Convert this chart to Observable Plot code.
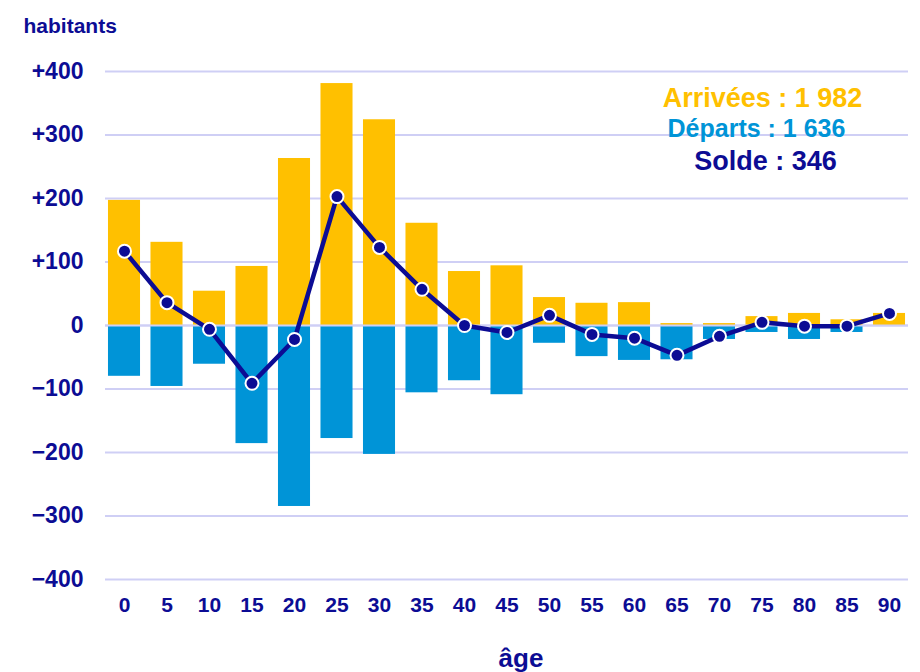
<!DOCTYPE html>
<html><head><meta charset="utf-8">
<script src="https://cdn.jsdelivr.net/npm/d3@7"></script>
<script src="https://cdn.jsdelivr.net/npm/@observablehq/plot@0.6"></script>
<style>
body{margin:0;background:#fff;}
#chart{position:relative;width:920px;height:672px;}
</style></head><body>
<div id="chart"></div>
<script>
const ages = ["0","5","10","15","20","25","30","35","40","45","50","55","60","65","70","75","80","85","90"];
const arrivees = [197,131,54,93,263,381,324,161,85,94,44,35,36,3,3,14,19,9,19];
const departs = [-80,-96,-61,-186,-285,-178,-203,-106,-87,-109,-28,-49,-55,-54,-22,-11,-22,-11,-1];
const solde = [117,36,-6,-91,-22,203,123,57,0,-11,16,-14,-20,-47,-17,5,-1,-1,19];
const yTicks = [-400,-300,-200,-100,0,100,200,300,400];
const labels = ["Arrivées : 1 982","Départs : 1 636","Solde : 346"];

const rows = ages.map((a,i)=>({age:a, arr:arrivees[i], dep:departs[i], sol:solde[i]}));
const navy = "#0c0c94";
const fmt = d => d>0 ? "+"+d : d<0 ? "\u2212"+(-d) : "0";
const font = "'Liberation Sans', Arial, sans-serif";

const plot = Plot.plot({
  width:920, height:672,
  marginLeft:105, marginRight:12, marginTop:71, marginBottom:93,
  style:{fontFamily:font, background:"#fff", overflow:"visible"},
  x:{domain:ages, paddingInner:0.246, paddingOuter:0.07, round:false, label:null, axis:null},
  y:{domain:[-400,400], label:null, axis:null},
  marks:[
    Plot.ruleY(yTicks, {stroke:"#cfcff5", strokeWidth:2}),
    Plot.barY(rows, {x:"age", y:"arr", fill:"#ffc000"}),
    Plot.barY(rows, {x:"age", y:"dep", fill:"#0094d7"}),
    Plot.ruleY([0], {stroke:"#cfcff5", strokeWidth:2}),
    Plot.axisY(yTicks, {tickSize:0, tickPadding:22, tickFormat:fmt, fill:navy, fontSize:23, fontWeight:"bold", fontFamily:font, label:null}),
    Plot.axisX(ages, {tickSize:0, tickPadding:18, fill:navy, fontSize:21, fontWeight:"bold", fontFamily:font, label:null}),
    Plot.line(rows, {x:"age", y:"sol", stroke:navy, strokeWidth:4.5, strokeLinejoin:"round"}),
    Plot.dot(rows, {x:"age", y:"sol", r:6.5, fill:navy, stroke:"#fff", strokeWidth:2}),
    Plot.text([labels[0]], {frameAnchor:"top-right", dy:16, fill:"#ffc000", fontSize:27, fontWeight:"bold", textAnchor:"middle", dx:-146, fontFamily:font}),
    Plot.text([labels[1]], {frameAnchor:"top-right", dy:48, fill:"#0094d7", fontSize:25, fontWeight:"bold", textAnchor:"middle", dx:-152, fontFamily:font}),
    Plot.text([labels[2]], {frameAnchor:"top-right", dy:79, fill:navy, fontSize:27, fontWeight:"bold", textAnchor:"middle", dx:-143, fontFamily:font}),
    Plot.text(["habitants"], {frameAnchor:"top-left", dx:-82, dy:-53, fill:navy, fontSize:21, fontWeight:"bold", textAnchor:"start", fontFamily:font}),
    Plot.text(["âge"], {frameAnchor:"bottom", dx:14, dy:87, fill:navy, fontSize:26, fontWeight:"bold", fontFamily:font})
  ]
});
document.getElementById("chart").appendChild(plot);
</script>
</body></html>
